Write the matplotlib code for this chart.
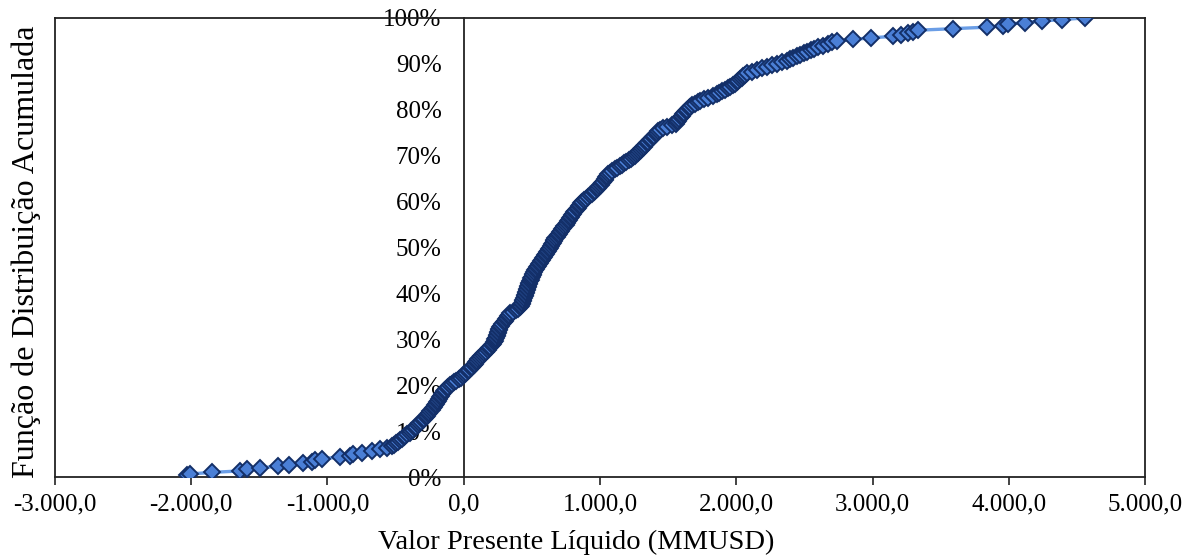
import matplotlib

matplotlib.use("Agg")
import matplotlib.pyplot as plt
import numpy as np
from matplotlib.ticker import FuncFormatter, MultipleLocator

# VPL simulado (MMUSD), já ordenado, um valor por iteração
vpl = [
    -2030, -2010, -1848, -1642, -1591, -1495, -1363, -1283, -1178, -1112,
    -1090, -1040, -908, -835, -813, -747, -674, -615, -563, -530,
    -512, -498, -480, -466, -452, -440, -428, -415, -398, -385,
    -372, -360, -348, -336, -325, -312, -300, -290, -276, -268,
    -260, -252, -244, -236, -228, -220, -212, -205, -198, -190,
    -183, -176, -170, -162, -153, -145, -135, -124, -112, -100,
    -86, -72, -55, -38, -22, -8, 5, 18, 30, 42,
    52, 62, 72, 82, 92, 100, 108, 118, 126, 138,
    150, 162, 175, 186, 196, 206, 215, 222, 228, 232,
    237, 241, 245, 249, 253, 257, 261, 266, 275, 284,
    292, 300, 308, 316, 323, 330, 338, 360, 380, 398,
    412, 420, 425, 429, 433, 437, 441, 446, 450, 454,
    458, 462, 466, 470, 474, 478, 482, 487, 491, 496,
    501, 505, 510, 518, 526, 533, 540, 548, 555, 562,
    569, 576, 583, 590, 597, 606, 612, 618, 625, 632,
    638, 645, 652, 659, 666, 673, 681, 690, 698, 706,
    714, 722, 731, 739, 747, 756, 764, 772, 780, 788,
    796, 804, 812, 820, 828, 836, 844, 852, 860, 870,
    882, 895, 910, 925, 940, 955, 966, 976, 985, 995,
    1005, 1014, 1024, 1035, 1040, 1045, 1050, 1056, 1070, 1090,
    1108, 1126, 1145, 1162, 1178, 1194, 1210, 1226, 1242, 1254,
    1265, 1276, 1287, 1298, 1309, 1320, 1331, 1343, 1354, 1365,
    1376, 1386, 1397, 1408, 1418, 1429, 1440, 1465, 1495, 1525,
    1555, 1565, 1574, 1583, 1592, 1601, 1610, 1620, 1630, 1640,
    1650, 1660, 1678, 1697, 1716, 1734, 1765, 1795, 1826, 1856,
    1876, 1896, 1916, 1937, 1957, 1978, 1990, 2002, 2015, 2027,
    2040, 2052, 2064, 2077, 2113, 2150, 2187, 2223, 2260, 2297,
    2333, 2370, 2395, 2420, 2445, 2470, 2494, 2517, 2545, 2572,
    2600, 2635, 2670, 2704, 2737, 2857, 2987, 3148, 3207, 3260,
    3297, 3334, 3593, 3838, 3958, 3995, 4119, 4243, 4390, 4560,
]

x_min, x_max = -3000, 5000

# frequência acumulada empírica de cada valor da amostra
x = np.sort(np.array(vpl, dtype=float))
fda = np.arange(1, len(x) + 1) / len(x)

plt.rcParams["font.family"] = ["Liberation Serif", "DejaVu Serif"]

fig = plt.figure(figsize=(11.92, 5.57), dpi=100)
ax = fig.add_axes([0.0461, 0.1436, 0.9145, 0.8241])

ax.plot(x, fda, color="#6b9ee6", linewidth=2.4, marker="D", markersize=8,
        markerfacecolor="#4a7fd6", markeredgecolor="#132f68", markeredgewidth=1.4,
        zorder=3)

ax.set_xlim(x_min, x_max)
ax.set_ylim(0, 1)

# eixo vertical cruzando em x = 0, como no Excel
ax.spines["left"].set_position(("data", 0))
for lado in ["left", "right", "top", "bottom"]:
    ax.spines[lado].set_color("#222222")
    ax.spines[lado].set_linewidth(1.3)
ax.plot([0, 0], [0, 1], transform=ax.transAxes, color="#222222",
        linewidth=1.3, clip_on=False, zorder=4)

ax.xaxis.set_major_locator(MultipleLocator(1000))
ax.yaxis.set_major_locator(MultipleLocator(0.1))


def formato_br(v, pos):
    s = f"{v:,.1f}"
    return s.replace(",", "X").replace(".", ",").replace("X", ".")


ax.xaxis.set_major_formatter(FuncFormatter(formato_br))
ax.yaxis.set_major_formatter(FuncFormatter(lambda v, pos: f"{v * 100:.0f}%"))

ax.tick_params(axis="x", direction="out", length=6, width=1.2, color="#222222",
               labelsize=18, pad=6)
ax.tick_params(axis="y", length=0, labelsize=18, pad=16)

ax.set_xlabel("Valor Presente Líquido (MMUSD)", fontsize=20.5)
ax.xaxis.set_label_coords(0.478, -0.115)
ax.set_ylabel("Função de Distribuição Acumulada", fontsize=23)
ax.yaxis.set_label_coords(-0.013, 0.49, transform=ax.transAxes)

fig.savefig("out.png", dpi=100)
plt.close("all")
